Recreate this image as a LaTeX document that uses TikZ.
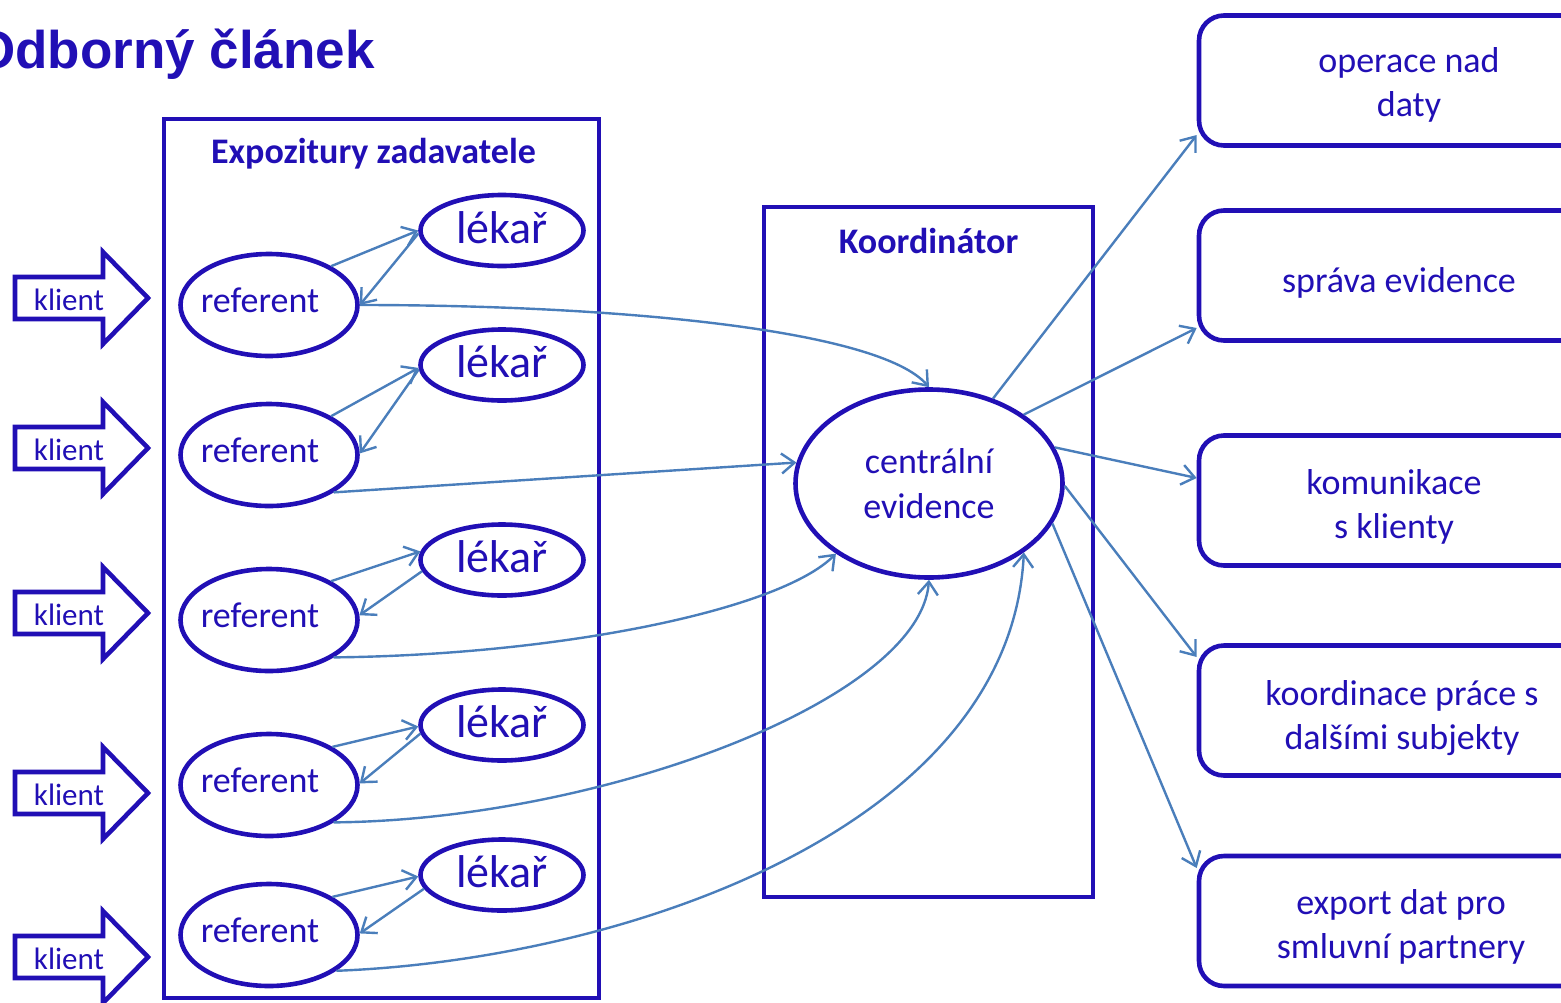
\documentclass[tikz,border=0pt]{standalone}
\usepackage{fontspec}
\setmainfont{Carlito}
\newfontfamily\titlefont{Liberation Sans}
\usetikzlibrary{shapes.geometric,arrows.meta}
\definecolor{dblue}{RGB}{33,15,181}
\definecolor{lblue}{RGB}{74,126,187}
\tikzset{
  shp/.style={draw=dblue, line width=4.6pt, text=dblue},
  cont/.style={draw=dblue, line width=4.6pt},
  refn/.style={shp, ellipse, minimum width=177pt, minimum height=102pt,
    inner ysep=0pt, inner xsep=-20pt, font=\fontsize{36}{44}\selectfont,
    text height=24pt, text depth=10pt},
  lekn/.style={shp, ellipse, minimum width=163pt, minimum height=71pt,
    inner sep=0pt, font=\fontsize{46}{55}\selectfont,
    text height=32pt, text depth=7pt},
  centn/.style={shp, ellipse, minimum width=267pt, minimum height=188pt,
    inner sep=0pt, align=center, font=\fontsize{36}{45}\selectfont},
  rbox/.style={shp, rounded corners=25pt, minimum height=130pt},
  lbl/.style={text=dblue, font=\fontsize{36}{44}\selectfont, align=center, inner sep=0pt},
  blbl/.style={text=dblue, font=\bfseries\fontsize{36}{44}\selectfont, inner sep=0pt},
  conn/.style={draw=lblue, line width=2.4pt, -{Straight Barb[length=13pt,width=20pt]}},
}
\newcommand\kliarrow[2]{%
  \draw[cont, line join=miter] ({15},{#1-21}) -- ({103},{#1-21}) -- ({103},{#1-46})
    -- ({148},{#1}) -- ({103},{#1+46}) -- ({103},{#1+21}) -- ({15},{#1+21}) -- cycle;
  \node[lbl, font=\fontsize{31}{37}\selectfont, anchor=base] (#2) at ({69},{#1+12}) {klient};
}
\begin{document}
\begin{tikzpicture}[x=1pt,y=-1pt]
\useasboundingbox (0,0) rectangle (1561,1002);
\clip (0,0) rectangle (1561,1002);

% title
\node[anchor=base east, text=dblue, inner sep=0pt,
  font=\titlefont\bfseries\fontsize{53}{60}\selectfont] (title) at (375,68) {Odborný článek};

% containers
\node[cont, minimum width=435pt, minimum height=879pt, inner sep=0pt] (expo) at (381.5,558.5) {};
\node[blbl, anchor=base] (expot) at (373.5,163) {Expozitury zadavatele};
\node[cont, minimum width=329pt, minimum height=690pt, inner sep=0pt] (koord) at (928.5,552) {};
\node[blbl, anchor=base] (koordt) at (928.5,253) {Koordinátor};

% klient arrows
\kliarrow{298}{k1}
\kliarrow{448}{k2}
\kliarrow{613}{k3}
\kliarrow{793}{k4}
\kliarrow{957}{k5}

% referent and lekar
\node[refn] (r1) at (269,305) {referent\hspace*{18pt}};
\node[refn] (r2) at (269,455) {referent\hspace*{18pt}};
\node[refn] (r3) at (269,620) {referent\hspace*{18pt}};
\node[refn] (r4) at (269,785) {referent\hspace*{18pt}};
\node[refn] (r5) at (269,935) {referent\hspace*{18pt}};

\node[lekn] (l1) at (502,230.5) {lékař};
\node[lekn] (l2) at (502,365) {lékař};
\node[lekn] (l3) at (502,560) {lékař};
\node[lekn] (l4) at (502,725) {lékař};
\node[lekn] (l5) at (502,875) {lékař};

% central
\node[centn] (cent) at (929,483.5) {centrální\\evidence};

% right boxes
\node[rbox, minimum width=420pt] (b1) at (1409,80.5) {};
\node[rbox, minimum width=400pt] (b2) at (1399,275.5) {};
\node[rbox, minimum width=390pt] (b3) at (1394,500.5) {};
\node[rbox, minimum width=406pt] (b4) at (1402,710.5) {};
\node[rbox, minimum width=404pt] (b5) at (1401,921) {};
\node[lbl] (b1t) at (1409,85) {operace nad\\daty};
\node[lbl, anchor=base] (b2t) at (1399,292) {správa evidence};
\node[lbl] (b3t) at (1394,506.5) {komunikace\\s klienty};
\node[lbl] (b4t) at (1402,718) {koordinace práce s\\dalšími subjekty};
\node[lbl] (b5t) at (1401,927) {export dat pro\\smluvní partnery};

% referent <-> lekar
\draw[conn] (r1.32) -- (l1.180);
\draw[conn] (l1.182) -- (r1.0);
\draw[conn] (r2.32) -- (l2.182);
\draw[conn] (l2.183) -- (r2.1);
\draw[conn] (r3.32) -- (l3.174);
\draw[conn] (l3.188) -- (r3.3);
\draw[conn] (r4.31) -- (l4.181);
\draw[conn] (l4.186) -- (r4.1);
\draw[conn] (r5.31) -- (l5.181);
\draw[conn] (l5.190) -- (r5.1);

% referent -> central
\draw[conn] (r1.0) .. controls (620,305) and (880,330) .. (cent.90);
\draw[conn] (r2.-30) -- (cent.171);
\draw[conn] (r3.-30) .. controls (560,655) and (780,610) .. (cent.217);
\draw[conn] (r4.-30) .. controls (600,820) and (920,700) .. (cent.270);
\draw[conn] (r5.-28) .. controls (620,960) and (1010,830) .. (cent.-36);

% central -> boxes
\draw[conn] (cent.53) -- ([yshift=-54.5pt]b1.west);
\draw[conn] (cent.36) -- ([yshift=-52.5pt]b2.west);
\draw[conn] (cent.16) -- ([yshift=22.5pt]b3.west);
\draw[conn] (cent.-1) -- ([yshift=53.5pt]b4.west);
\draw[conn] (cent.-18) -- ([yshift=53pt]b5.west);
\end{tikzpicture}
\end{document}
